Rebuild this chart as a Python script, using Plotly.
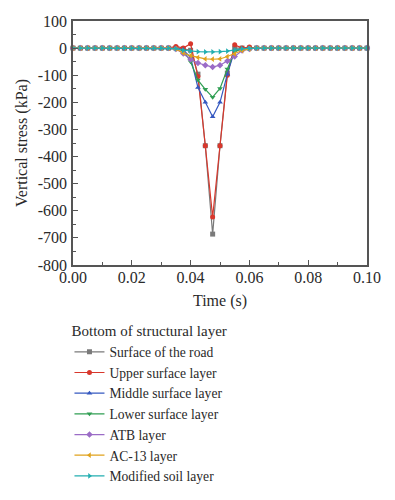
import plotly.graph_objects as go

# time axis (s), 41 samples, dt = 0.0025
time_s = [round(i * 0.0025, 4) for i in range(41)]

# values only differ from zero around the load pulse (indices 14..24)
def series(dip):
    vals = [0.0] * 41
    for k, v in dip.items():
        vals[k] = v
    return vals

surface_road = series({14: 0, 15: -3, 16: -8, 17: -96, 18: -360, 19: -686, 20: -360, 21: -92, 22: 0, 23: 0, 24: 0})
upper_surface = series({14: 6, 15: 0, 16: 16, 17: -105, 18: -360, 19: -623, 20: -360, 21: -100, 22: 12, 23: 0, 24: 4})
middle_surface = series({14: -2, 15: -6, 16: -35, 17: -145, 18: -200, 19: -253, 20: -200, 21: -96, 22: -8, 23: -3, 24: -1})
lower_surface = series({14: -2, 15: -8, 16: -50, 17: -118, 18: -152, 19: -181, 20: -149, 21: -77, 22: -12, 23: -4, 24: -1})
atb_layer = series({14: -3, 15: -20, 16: -42, 17: -55, 18: -63, 19: -70, 20: -63, 21: -48, 22: -31, 23: -9, 24: -3})
ac13_layer = series({14: -3, 15: -18, 16: -28, 17: -35, 18: -40, 19: -41, 20: -40, 21: -31, 22: -21, 23: -9, 24: -3})
soil_layer = series({14: -2, 15: -8, 16: -11, 17: -13, 18: -14, 19: -14, 20: -13, 21: -11, 22: -6, 23: -2, 24: -1})

names = ["Surface of the road", "Upper surface layer", "Middle surface layer",
         "Lower surface layer", "ATB layer", "AC-13 layer", "Modified soil layer"]
all_series = [surface_road, upper_surface, middle_surface, lower_surface,
              atb_layer, ac13_layer, soil_layer]
colors = ["#7a7a7a", "#d8372c", "#3558c0", "#2f9e52", "#9b6cc6", "#e0a21c", "#22aeb0"]
symbols = ["square", "circle", "triangle-up", "triangle-down", "diamond",
           "triangle-left", "triangle-right"]

y_tickvals = [100, 0, -100, -200, -300, -400, -500, -600, -700, -800]
y_ticktext = ["100", "0", "-100", "-200", "-300", "-400", "-500", "-600", "-700", "-800"]
x_tickvals = [0.0, 0.02, 0.04, 0.06, 0.08, 0.10]
x_ticktext = ["0.00", "0.02", "0.04", "0.06", "0.08", "0.10"]

FONT = "Liberation Serif"
TXT = "#2a2a2a"

fig = go.Figure()
for nm, ys, c, s in zip(names, all_series, colors, symbols):
    fig.add_trace(go.Scatter(
        x=time_s, y=ys, name=nm, mode="lines+markers",
        line=dict(color=c, width=1.2),
        marker=dict(symbol=s, size=5, color=c),
        cliponaxis=False,
    ))

# the page body has an 8px default margin, so the figure is laid out 8px up/left
fig.update_layout(
    width=395, height=500,
    margin=dict(l=65, r=36, t=13, b=243),
    paper_bgcolor="white", plot_bgcolor="white",
    font=dict(family=FONT, size=16, color=TXT),
    showlegend=True,
    legend=dict(
        x=-0.012, y=-0.213, xanchor="left", yanchor="top",
        title=dict(text="Bottom of structural layer", font=dict(family=FONT, size=15, color=TXT)),
        font=dict(family=FONT, size=13.6, color=TXT),
        bgcolor="rgba(0,0,0,0)", tracegroupgap=0, itemwidth=30,
    ),
    xaxis=dict(
        range=[0, 0.1], tickvals=x_tickvals, ticktext=x_ticktext,
        ticks="inside", ticklen=5, tickcolor="#555", tickwidth=1,
        minor=dict(dtick=0.01, ticks="inside", ticklen=3, tickcolor="#555"),
        showline=True, linecolor="#555", linewidth=1.5, mirror=True,
        showgrid=False, zeroline=False, automargin=False,
        ticklabelstandoff=-3,
        title=dict(text="Time (s)", standoff=10, font=dict(family=FONT, size=16, color=TXT)),
        tickfont=dict(family=FONT, size=16, color=TXT),
    ),
    yaxis=dict(
        range=[-800, 100], tickvals=y_tickvals, ticktext=y_ticktext,
        ticks="inside", ticklen=5, tickcolor="#555", tickwidth=1,
        minor=dict(dtick=50, ticks="inside", ticklen=3, tickcolor="#555"),
        showline=True, linecolor="#555", linewidth=1.5, mirror=True,
        showgrid=False, zeroline=False, automargin=False,
        ticklabelstandoff=1,
        title=dict(text="Vertical stress (kPa)", standoff=6, font=dict(family=FONT, size=16, color=TXT)),
        tickfont=dict(family=FONT, size=16, color=TXT),
    ),
)

fig.write_html("out.html")
